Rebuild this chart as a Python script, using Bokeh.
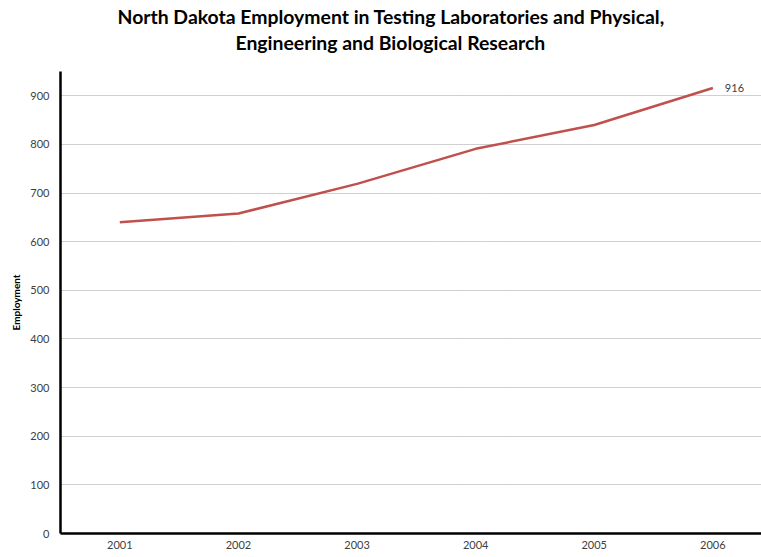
from bokeh.plotting import figure
from bokeh.models import Range1d, FixedTicker, Title, Label
from bokeh.embed import file_html
from bokeh.resources import INLINE

years = [2001, 2002, 2003, 2004, 2005, 2006]
employment = [640, 658, 719, 791, 840, 916]
y_ticks = [0, 100, 200, 300, 400, 500, 600, 700, 800, 900]
title_line1 = "North Dakota Employment in Testing Laboratories and Physical,"
title_line2 = "Engineering and Biological Research"
y_label = "Employment"
end_label = "916"

FONT = "Lato"

p = figure(width=761, height=557, output_backend="svg", toolbar_location=None,
           x_range=Range1d(2000.5, 2006.41), y_range=Range1d(0, 950),
           min_border_left=60, min_border_right=0, min_border_top=71,
           min_border_bottom=24)
p.outline_line_color = None
p.background_fill_color = "white"
p.border_fill_color = "white"

p.title.text = ""
p.title.visible = False

spacer = Title(text=" ", text_font_size="1px", standoff=15)
t2 = Title(text=title_line2, align="left", offset=175, text_font=FONT,
           text_font_size="19.4px", text_font_style="bold", text_color="black",
           standoff=0)
t1 = Title(text=title_line1, align="left", offset=57, text_font=FONT,
           text_font_size="19.4px", text_font_style="bold", text_color="black",
           standoff=2)
p.add_layout(spacer, "above")
p.add_layout(t2, "above")
p.add_layout(t1, "above")

p.line(years, employment, line_color="#C0504D", line_width=2.5)

lab = Label(x=years[-1], y=employment[-1], text=end_label, x_offset=12, y_offset=0,
            text_baseline="middle", text_font=FONT, text_font_size="11px",
            text_color="#404040")
p.add_layout(lab)

# axes
p.xaxis.ticker = FixedTicker(ticks=years)
p.yaxis.ticker = FixedTicker(ticks=y_ticks)
for ax in (p.xaxis, p.yaxis):
    ax.axis_line_color = "black"
    ax.axis_line_width = 2.5
    ax.major_tick_line_color = None
    ax.minor_tick_line_color = None
    ax.major_tick_out = 0
    ax.major_tick_in = 0
    ax.major_label_text_font = FONT
    ax.major_label_text_font_size = "11px"
    ax.major_label_text_color = "#404040"
p.yaxis.major_label_standoff = 11
p.xaxis.major_label_standoff = 7
p.xaxis.axis_label_standoff = 0
p.yaxis.axis_label = y_label
p.yaxis.axis_label_text_font = FONT
p.yaxis.axis_label_text_font_size = "10px"
p.yaxis.axis_label_text_font_style = "bold"
p.yaxis.axis_label_text_color = "black"
p.yaxis.axis_label_standoff = 5

p.xgrid.grid_line_color = None
p.ygrid.grid_line_color = "#a0a0a0"
p.ygrid.grid_line_dash = "1 1"
p.ygrid.grid_line_width = 1

open("out.html", "w").write(file_html(p, INLINE))
